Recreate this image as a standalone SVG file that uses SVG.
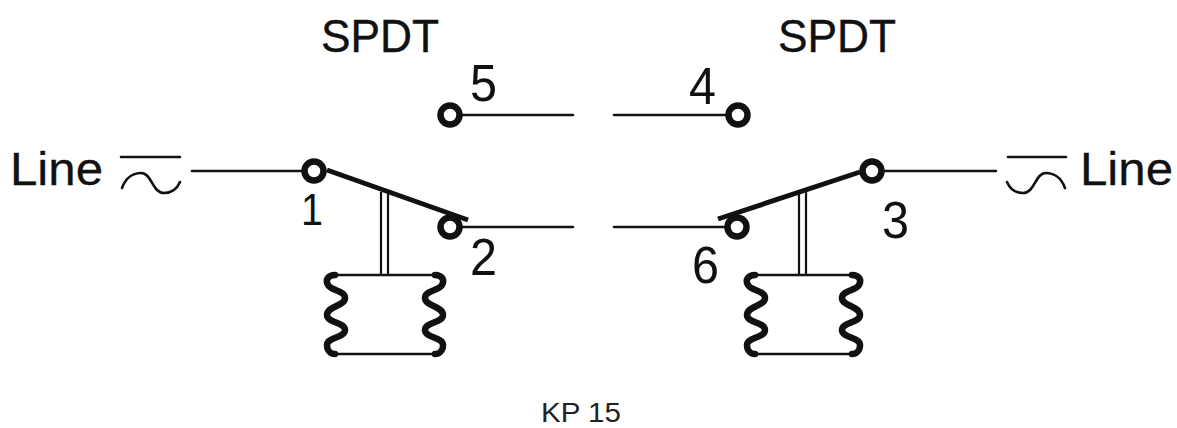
<svg xmlns="http://www.w3.org/2000/svg" width="1177" height="428" viewBox="0 0 1177 428">
<style>
text{font-family:"Liberation Sans",Arial,sans-serif;fill:#111}
.h{font-size:47px;stroke:#111;stroke-width:.4}
.l{font-size:46px;stroke:#111;stroke-width:.3}
.n{font-size:51px}
.k{font-size:27px;fill:#222}
.w{fill:none;stroke:#111;stroke-width:2.6;stroke-linecap:round}
.t{fill:none;stroke:#111;stroke-width:2.2}
.a{fill:none;stroke:#111;stroke-width:5}
.c{fill:#fff;stroke:#111;stroke-width:6.5}
.coil{fill:none;stroke:#111;stroke-width:6.5;stroke-linecap:round;stroke-linejoin:round}
</style>
<defs>
<path id="coil" class="coil" d="M335 275C328 275 325 280 328 285C331 291 345 290 345 298C345 306 327 306 327 315C327 323 345 322 345 330C345 338 327 337 327 345C327 351 331 354 335 354"/>
</defs>
<rect width="1177" height="428" fill="#fff"/>
<g id="connectors">
<path class="w" d="M192 171H305M460 115H573M614 115H728M460 227H573M614 227H728M882 171H996"/>
<path class="a" d="M327 170L468 220M860 172L718 219"/>
<path class="t" d="M381 192V275M388 194V275M799 194V275M806 192V275"/>
<path class="w" d="M335 275H435M335 354H435M755 275H852M755 354H852"/>
</g>
<g id="node-1"><circle class="c" cx="314" cy="171" r="9.5"/><text class="n" style="font-size:44px" x="301" y="225" textLength="22" lengthAdjust="spacingAndGlyphs">1</text></g>
<g id="node-2"><circle class="c" cx="450" cy="227" r="9.5"/><text class="n" x="470" y="275" textLength="27" lengthAdjust="spacingAndGlyphs">2</text></g>
<g id="node-3"><circle class="c" cx="872" cy="171" r="9.5"/><text class="n" x="882" y="238" textLength="27" lengthAdjust="spacingAndGlyphs">3</text></g>
<g id="node-4"><circle class="c" cx="738" cy="115" r="9.5"/><text class="n" x="689" y="104" textLength="27" lengthAdjust="spacingAndGlyphs">4</text></g>
<g id="node-5"><circle class="c" cx="450" cy="115" r="9.5"/><text class="n" x="470" y="101" textLength="27" lengthAdjust="spacingAndGlyphs">5</text></g>
<g id="node-6"><circle class="c" cx="737" cy="227" r="9.5"/><text class="n" x="692" y="283" textLength="27" lengthAdjust="spacingAndGlyphs">6</text></g>
<g id="coil-left">
<use href="#coil"/>
<use href="#coil" transform="matrix(-1 0 0 1 770 0)"/>
</g>
<g id="coil-right">
<use href="#coil" transform="translate(420 0)"/>
<use href="#coil" transform="matrix(-1 0 0 1 1187 0)"/>
</g>
<g id="line-left">
<text class="l" x="10" y="185" textLength="93" lengthAdjust="spacingAndGlyphs">Line</text>
<path class="w" d="M121 157H180M122 188C126 177 134 173 141 173C152 173 152 193 164 193C172 193 177 189 180 182"/>
</g>
<g id="line-right">
<text class="l" x="1080" y="185" textLength="93" lengthAdjust="spacingAndGlyphs">Line</text>
<path class="w" d="M1008 157H1066M1007 182C1010 189 1015 193 1023 193C1035 193 1035 173 1046 173C1053 173 1061 177 1065 188"/>
</g>
<g id="labels">
<text class="h" x="321" y="52" textLength="118" lengthAdjust="spacingAndGlyphs">SPDT</text>
<text class="h" x="778" y="52" textLength="118" lengthAdjust="spacingAndGlyphs">SPDT</text>
<text class="k" x="541" y="422" textLength="80" lengthAdjust="spacingAndGlyphs">KP 15</text>
</g>
</svg>
